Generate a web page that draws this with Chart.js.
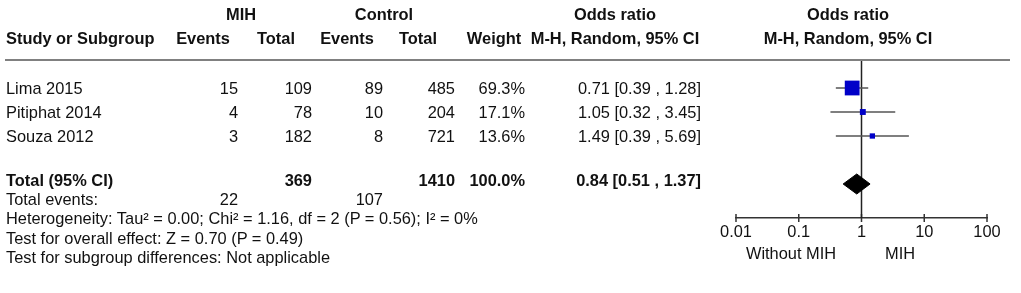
<!DOCTYPE html>
<html>
<head>
<meta charset="utf-8">
<script src="https://cdn.jsdelivr.net/npm/chart.js@4/dist/chart.umd.min.js"></script>
<style>
  body { margin: 0; background: #fff; }
  #wrap { position: relative; width: 1021px; height: 293px; overflow: hidden;
          font-family: "Liberation Sans", Arial, sans-serif; font-size: 16.4px; color: #111; }
  #forest { position: absolute; left: 0; top: 0; }
  .t { position: absolute; white-space: nowrap; line-height: 1; }
  .b { font-weight: bold; }
  #rule { position: absolute; left: 5px; top: 59px; width: 1005px; height: 2px; background: #808080; }
</style>
</head>
<body>
<div id="wrap">
  <canvas id="forest" width="1021" height="293"></canvas>
  <div id="rule"></div>
</div>
<script>
  // study data
  const studies = ['Lima 2015', 'Pitiphat 2014', 'Souza 2012'];
  const mihEvents = [15, 4, 3];
  const mihTotal = [109, 78, 182];
  const ctrlEvents = [89, 10, 8];
  const ctrlTotal = [485, 204, 721];
  const weights = [69.3, 17.1, 13.6];
  const oddsRatio = [0.71, 1.05, 1.49];
  const ciLow = [0.39, 0.32, 0.39];
  const ciHigh = [1.28, 3.45, 5.69];

  // pooled result
  const totalMih = 369, totalCtrl = 1410;
  const totalMihEvents = 22, totalCtrlEvents = 107;
  const pooledOR = 0.84, pooledLow = 0.51, pooledHigh = 1.37;

  const axisTicks = [0.01, 0.1, 1, 10, 100];
  const footNotes = [
    'Heterogeneity: Tau² = 0.00; Chi² = 1.16, df = 2 (P = 0.56); I² = 0%',
    'Test for overall effect: Z = 0.70 (P = 0.49)',
    'Test for subgroup differences: Not applicable'
  ];

  const wrap = document.getElementById('wrap');
  function put(text, x, y, align, bold) {
    const d = document.createElement('div');
    d.className = 't' + (bold ? ' b' : '');
    d.textContent = text;
    d.style.left = x + 'px';
    d.style.top = y + 'px';
    const tx = align === 'center' ? '-50%' : align === 'right' ? '-100%' : '0';
    d.style.transform = 'translate(' + tx + ',-50%)';
    wrap.appendChild(d);
  }
  const fmtCI = (o, l, h) => o.toFixed(2) + ' [' + l.toFixed(2) + ' , ' + h.toFixed(2) + ']';

  // headers
  put('MIH', 241, 14, 'center', true);
  put('Control', 384, 14, 'center', true);
  put('Odds ratio', 615, 14, 'center', true);
  put('Odds ratio', 848, 14, 'center', true);
  put('Study or Subgroup', 6, 38, 'left', true);
  put('Events', 203, 38, 'center', true);
  put('Total', 276, 38, 'center', true);
  put('Events', 347, 38, 'center', true);
  put('Total', 418, 38, 'center', true);
  put('Weight', 494, 38, 'center', true);
  put('M-H, Random, 95% CI', 615, 38, 'center', true);
  put('M-H, Random, 95% CI', 848, 38, 'center', true);

  // study rows
  const rowTop = 88, rowGap = 24;
  studies.forEach((s, i) => {
    const y = rowTop + i * rowGap;
    put(s, 6, y, 'left');
    put(String(mihEvents[i]), 238, y, 'right');
    put(String(mihTotal[i]), 312, y, 'right');
    put(String(ctrlEvents[i]), 383, y, 'right');
    put(String(ctrlTotal[i]), 455, y, 'right');
    put(weights[i].toFixed(1) + '%', 525, y, 'right');
    put(fmtCI(oddsRatio[i], ciLow[i], ciHigh[i]), 701, y, 'right');
  });

  // totals and notes
  put('Total (95% CI)', 6, 180, 'left', true);
  put(String(totalMih), 312, 180, 'right', true);
  put(String(totalCtrl), 455, 180, 'right', true);
  put(weights.reduce((a, b) => a + b, 0).toFixed(1) + '%', 525, 180, 'right', true);
  put(fmtCI(pooledOR, pooledLow, pooledHigh), 701, 180, 'right', true);
  put('Total events:', 6, 198.5, 'left');
  put(String(totalMihEvents), 238, 198.5, 'right');
  put(String(totalCtrlEvents), 383, 198.5, 'right');
  footNotes.forEach((n, i) => put(n, 6, 218 + i * 19.5, 'left'));
  put('Without MIH', 791, 253, 'center');
  put('MIH', 900, 253, 'center');

  // forest plot: y in row units, rows 1..3 studies, row 5 pooled
  const rowY = studies.map((s, i) => i + 1);
  const pooledY = 5;
  const yMin = -0.167, yMax = 6.417;
  const diamondHalf = 0.417;

  const datasets = [];
  // lower order is drawn on top
  datasets.push({
    order: 3,
    data: [{ x: 1, y: yMin }, { x: 1, y: yMax }],
    showLine: true, borderColor: '#222', borderWidth: 1.5, pointRadius: 0
  });
  // axis tick marks crossing the axis line
  datasets.push({
    order: 3, clip: false,
    data: axisTicks.map(v => ({ x: v, y: yMax })),
    pointStyle: 'line', rotation: 90, pointRadius: 4,
    borderColor: '#333', borderWidth: 1.5
  });
  studies.forEach((s, i) => {
    datasets.push({
      order: 2,
      data: [{ x: ciLow[i], y: rowY[i] }, { x: ciHigh[i], y: rowY[i] }],
      showLine: true, borderColor: '#555', borderWidth: 1.5, pointRadius: 0
    });
  });
  datasets.push({
    order: 1,
    data: oddsRatio.map((o, i) => ({ x: o, y: rowY[i] })),
    pointStyle: 'rect',
    pointRadius: weights.map(w => (3 + w * 0.17) / Math.SQRT2),
    backgroundColor: '#0000c8', borderColor: '#0000c8', borderWidth: 0
  });
  datasets.push({
    order: 0,
    data: [
      { x: pooledLow, y: pooledY },
      { x: pooledOR, y: pooledY - diamondHalf },
      { x: pooledHigh, y: pooledY },
      { x: pooledOR, y: pooledY + diamondHalf },
      { x: pooledLow, y: pooledY }
    ],
    showLine: true, fill: 'shape', tension: 0,
    borderColor: '#000', backgroundColor: '#000', borderWidth: 1, pointRadius: 0
  });

  new Chart(document.getElementById('forest'), {
    type: 'scatter',
    data: { datasets },
    options: {
      responsive: false,
      animation: false,
      layout: { padding: { left: 736, right: 34, top: 60, bottom: 0 } },
      plugins: { legend: { display: false }, tooltip: { enabled: false } },
      scales: {
        x: {
          type: 'logarithmic', min: 0.01, max: 100, position: 'bottom',
          afterBuildTicks: s => { s.ticks = axisTicks.map(v => ({ value: v })); },
          afterFit: s => { s.height = 75; },
          ticks: {
            callback: v => String(v), color: '#111', autoSkip: false, maxRotation: 0, padding: 5,
            font: { family: '"Liberation Sans", Arial, sans-serif', size: 16.4 }
          },
          grid: { drawOnChartArea: false, drawTicks: false },
          border: { color: '#333', width: 1.5 }
        },
        y: { display: false, min: yMin, max: yMax, reverse: true }
      }
    }
  });
</script>
</body>
</html>
